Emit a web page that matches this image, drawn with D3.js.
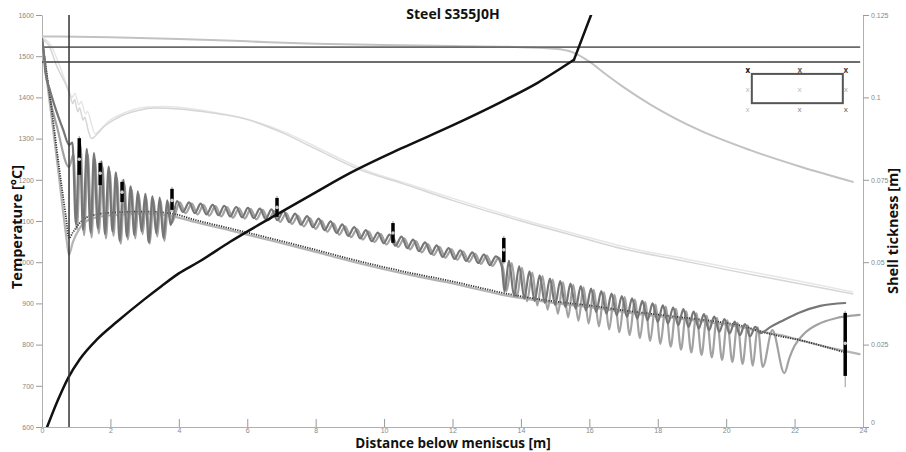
<!DOCTYPE html>
<html>
<head>
<meta charset="utf-8">
<script src="https://cdn.jsdelivr.net/npm/d3@7/dist/d3.min.js"></script>
<style>
  body { margin: 0; background: #fff; }
  svg { display: block; font-family: "Open Sans", "DejaVu Sans", sans-serif; }
</style>
</head>
<body>
<svg width="906" height="452"></svg>
<script>
// ---- data (distance [m], temperature [°C]) ----
const tempTicks = d3.range(600, 1601, 100);
const distTicks = d3.range(0, 25, 2);
const shellTicks = [0, 0.025, 0.05, 0.075, 0.1, 0.125];

const liquidusLine = [[0, 1522], [23.9, 1522]];
const solidusLine = [[0, 1486], [23.9, 1486]];
const mouldExit = 0.79;

const centreTemp = [[0,1548],[2,1546],[4,1542],[6,1536],[8,1530],[10,1527],[12,1525],[14,1522],[15,1518],[15.5,1510],[16,1487],[16.5,1455],[17,1425],[17.8,1382],[19.2,1321],[20.7,1272],[22.2,1231],[23.7,1195]];

const cornerA = [[0,1542],[0.2,1526],[0.44,1474],[0.73,1425],[0.82,1405],[0.9,1385],[0.95,1395],[1.05,1365],[1.1,1375],[1.2,1345],[1.25,1352],[1.35,1320],[1.45,1300],[1.6,1310],[1.8,1328],[2.2,1350],[2.8,1368],[3.3,1374],[4,1372],[5,1362],[5.85,1350],[7,1315],[8,1275],[9.3,1224],[10.5,1192],[12,1150],[14,1100],[15.7,1061],[17,1032],[18.65,1005],[20,982],[22,950],[23.7,923]];
const cornerB = [[0,1544],[0.25,1528],[0.5,1480],[0.78,1418],[0.88,1400],[0.96,1410],[1.08,1382],[1.15,1390],[1.27,1360],[1.33,1366],[1.45,1335],[1.55,1312],[1.7,1322],[1.95,1342],[2.4,1362],[3.0,1376],[3.6,1378],[4.4,1372],[5.3,1360],[6.2,1342],[7.2,1312],[8.3,1268],[9.5,1222],[10.7,1190],[12.2,1150],[14.2,1100],[15.9,1062],[17.2,1034],[18.8,1008],[20.2,985],[22.2,953],[23.7,928]];

const lowerDark = [[0,1540],[0.1,1480],[0.3,1360],[0.5,1230],[0.7,1110],[0.79,1058],[0.9,1072],[1.1,1095],[1.4,1112],[2,1120],[3,1123],[3.8,1118],[4.5,1102],[5.5,1082],[6.87,1054],[8,1030],[9,1008],[10,988],[11,970],[11.8,957],[12.7,940],[13.5,925],[14.3,913],[15.15,903],[16,895],[17,883],[18.5,868],[19.8,855],[20.5,845],[21,832],[21.6,820],[22.15,811],[22.8,797],[23.5,780]];
const lowerLight = [[0,1540],[0.1,1470],[0.3,1340],[0.5,1205],[0.7,1068],[0.79,1018],[0.9,1048],[1.1,1082],[1.4,1104],[2,1114],[3,1118],[3.8,1112],[4.5,1097],[5.5,1077],[6.87,1049],[8,1025],[9,1003],[10,983],[11,965],[11.8,952],[12.7,935],[13.5,920],[14.3,909],[15.15,899],[16,891],[17,879],[18.5,864],[19.8,851],[20.5,841],[21,832],[21.6,823],[22.15,811],[22.8,797],[23.9,777]];

// surface, dark trace
const surfA_mould = [[0,1542],[0.05,1510],[0.1,1460],[0.23,1418],[0.38,1377],[0.62,1321],[0.79,1285]];
const surfA_zone1 = [[0.89,1290],[0.99,1092],[1.10,1300],[1.20,1078],[1.31,1275],[1.42,1072],[1.52,1265],[1.63,1082],[1.74,1245],[1.84,1068],[1.95,1232],[2.06,1075],[2.16,1218],[2.27,1052],[2.38,1200],[2.48,1062],[2.59,1184],[2.70,1066],[2.80,1172],[2.91,1075],[3.02,1166],[3.12,1048],[3.23,1160],[3.34,1070],[3.44,1157],[3.55,1058],[3.66,1150],[3.76,1090]];
const surfA_zone2 = [[3.95,1148],[4.12,1122],[4.30,1145],[4.47,1119],[4.64,1142],[4.81,1116],[4.99,1139],[5.16,1114],[5.33,1137],[5.50,1111],[5.68,1134],[5.85,1109],[6.02,1132],[6.19,1107],[6.37,1130],[6.54,1105],[6.71,1128],[6.88,1102],[7.06,1124],[7.23,1097],[7.40,1118],[7.57,1091],[7.75,1112],[7.92,1085],[8.09,1106],[8.26,1078],[8.44,1099],[8.61,1071],[8.78,1092],[8.95,1064],[9.13,1085],[9.30,1058],[9.47,1078],[9.64,1051],[9.82,1072],[9.99,1046],[10.16,1067],[10.33,1040],[10.51,1062],[10.68,1034],[10.85,1055],[11.02,1027],[11.20,1048],[11.37,1020],[11.54,1041],[11.71,1013],[11.89,1034],[12.06,1008],[12.23,1029],[12.40,1003],[12.58,1024],[12.75,998],[12.92,1019],[13.09,993],[13.27,1014],[13.44,990]];
const surfA_zone3 = [[13.52,928],[13.65,1003],[13.80,918],[13.95,990],[14.10,912],[14.25,978],[14.40,906],[14.55,968],[14.70,901],[14.85,960],[15.00,896],[15.15,954],[15.30,891],[15.45,948],[15.60,887],[15.75,942],[15.90,883],[16.05,936],[16.20,879],[16.35,930],[16.50,875],[16.65,924],[16.80,871],[16.95,918],[17.10,867],[17.25,912],[17.40,863],[17.55,906],[17.70,859],[17.85,900],[18.00,855],[18.15,895],[18.30,851],[18.45,890],[18.60,847],[18.75,886],[18.90,843],[19.05,880],[19.20,839],[19.35,874],[19.50,835],[19.65,868],[19.80,831],[19.95,862],[20.10,827],[20.25,856],[20.40,823],[20.55,850],[20.70,820],[20.85,843],[21.00,828]];
const surfA_tail = [[21.3,843],[21.6,856],[22.15,878],[22.75,894],[23.48,901]];

// surface, light trace
const surfB_mould = [[0,1542],[0.09,1483],[0.23,1400],[0.44,1328],[0.79,1231]];
const surfB_zone1 = [[0.92,1262],[1.02,1080],[1.13,1280],[1.23,1065],[1.34,1262],[1.45,1060],[1.55,1250],[1.66,1070],[1.77,1232],[1.87,1058],[1.98,1220],[2.09,1064],[2.19,1205],[2.30,1045],[2.41,1190],[2.51,1055],[2.62,1176],[2.73,1058],[2.83,1165],[2.94,1068],[3.05,1158],[3.15,1045],[3.26,1152],[3.37,1062],[3.47,1150],[3.58,1052],[3.69,1145],[3.79,1095]];
const surfB_zone2 = [[4.03,1145],[4.20,1119],[4.38,1142],[4.55,1116],[4.72,1139],[4.89,1113],[5.07,1136],[5.24,1111],[5.41,1134],[5.58,1108],[5.76,1131],[5.93,1106],[6.10,1129],[6.27,1104],[6.45,1127],[6.62,1102],[6.79,1124],[6.96,1098],[7.14,1119],[7.31,1093],[7.48,1113],[7.65,1087],[7.83,1107],[8.00,1081],[8.17,1101],[8.34,1074],[8.52,1094],[8.69,1067],[8.86,1087],[9.03,1061],[9.21,1080],[9.38,1055],[9.55,1074],[9.72,1049],[9.90,1068],[10.07,1043],[10.24,1063],[10.41,1037],[10.59,1058],[10.76,1031],[10.93,1051],[11.10,1024],[11.28,1044],[11.45,1017],[11.62,1037],[11.79,1011],[11.97,1031],[12.14,1006],[12.31,1026],[12.48,1001],[12.66,1021],[12.83,996],[13.00,1016],[13.17,991],[13.35,1011],[13.48,985]];
const surfB_zone3 = [[13.58,930],[13.73,998],[13.88,915],[14.03,986],[14.18,905],[14.33,975],[14.48,895],[14.63,966],[14.78,885],[14.93,958],[15.08,875],[15.23,951],[15.38,866],[15.53,945],[15.68,858],[15.83,939],[15.98,851],[16.13,933],[16.28,844],[16.43,927],[16.58,837],[16.73,921],[16.88,830],[17.03,915],[17.18,823],[17.33,909],[17.48,816],[17.63,903],[17.78,809],[17.93,897],[18.08,802],[18.23,892],[18.38,795],[18.53,887],[18.68,788],[18.83,881],[18.98,781],[19.13,876],[19.28,775],[19.43,870],[19.58,769],[19.73,865],[19.88,763],[20.03,859],[20.18,758],[20.33,853],[20.48,753],[20.63,847],[20.78,749],[20.92,842],[21.07,746],[21.35,835],[21.70,731]];
const surfB_tail = [[21.85,768],[22.0,797],[22.3,828],[22.7,850],[23.2,864],[23.9,872]];

// shell thickness [m] (right axis): growing part and final closure
const shellGrowth = [[0.15,0],[0.45,0.0078],[0.77,0.0150],[1.1,0.0205],[1.6,0.0265],[2.2,0.0320],[3.0,0.0388],[3.5,0.0428],[4.0,0.0466],[4.6,0.0502],[5.5,0.0562],[6.87,0.0645],[8.0,0.0712],[9.0,0.0770],[10.5,0.0845],[12.0,0.0915],[13.4,0.0985],[14.5,0.1045],[15.55,0.1114]];
const shellClosure = [[15.55,0.1114],[16.05,0.125]];

// pyrometer measurements
const measDist = [1.09, 1.70, 2.34, 3.80, 6.87, 10.26, 13.50, 23.48];
const measHigh = [1301, 1241, 1195, 1178, 1156, 1095, 1059, 877];
const measLow  = [1212, 1187, 1146, 1127, 1110, 1047, 1000, 724];
const measMid  = [1250, 1216, 1170, 1150, 1133, 1071, 1030, 803];
const measRangeLow = [1205, 1182, 1140, 1122, 1106, 1043, 995, 697];

// section sketch (drawn in data units)
const sectionBox = {x0: 20.75, x1: 23.41, t0: 1457, t1: 1386};
const probeX = [20.63, 22.15, 23.5];
const probeT = [1467, 1419, 1372];
const probeColors = [["#111", "#666", "#444"], ["#bbb", "#bbb", "#aaa"], ["#bbb", "#888", "#555"]];

// ---- chart ----
const svg = d3.select("svg");
const margin = {top: 15, right: 43, bottom: 25, left: 42};
const width = 906 - margin.left - margin.right;
const height = 452 - margin.top - margin.bottom;

const x = d3.scaleLinear().domain([0, 24]).range([0, width]);
const y = d3.scaleLinear().domain([600, 1600]).range([height, 0]);
const y2 = d3.scaleLinear().domain([0, 0.125]).range([height, 0]);

const g = svg.append("g").attr("transform", "translate(" + margin.left + "," + margin.top + ")");

svg.append("defs").append("clipPath").attr("id", "plot")
  .append("rect").attr("width", width).attr("height", height);

// axes
function styleAxis(sel) {
  sel.select(".domain").attr("stroke", "#b0b0b0");
  sel.selectAll(".tick line").attr("stroke", "#999");
  sel.selectAll(".tick text").attr("fill", "#888").attr("font-size", 7);
}

g.append("g")
  .call(d3.axisLeft(y).tickValues(tempTicks).tickFormat(d3.format("d")).tickSize(6).tickSizeOuter(0).tickPadding(2))
  .call(styleAxis);

g.append("g")
  .attr("transform", "translate(0," + height + ")")
  .call(d3.axisBottom(x).tickValues(distTicks).tickFormat(d3.format("d")).tickSize(-8).tickSizeOuter(0).tickPadding(1))
  .call(styleAxis);

g.append("g")
  .attr("transform", "translate(" + width + ",0)")
  .call(d3.axisRight(y2).tickValues(shellTicks).tickFormat(d => String(d)).tickSize(6).tickSizeOuter(0).tickPadding(2))
  .call(styleAxis)
  .selectAll(".tick text").filter(d => d === 0).attr("dy", "-0.3em");

// titles
svg.append("text").attr("x", 453).attr("y", 19).attr("text-anchor", "middle")
  .attr("font-weight", "bold").attr("font-size", 14).attr("fill", "#111").text("Steel S355J0H");

svg.append("text").attr("transform", "translate(22," + (margin.top + height / 2 + 6) + ") rotate(-90)")
  .attr("text-anchor", "middle").attr("font-weight", "bold").attr("font-size", 14.5).attr("fill", "#111")
  .text("Temperature [°C]");

svg.append("text").attr("transform", "translate(898," + (margin.top + height / 2 + 10) + ") rotate(-90)")
  .attr("text-anchor", "middle").attr("font-weight", "bold").attr("font-size", 14.5).attr("fill", "#111")
  .text("Shell tickness [m]");

svg.append("text").attr("x", 453).attr("y", 448).attr("text-anchor", "middle")
  .attr("font-weight", "bold").attr("font-size", 13.5).attr("fill", "#111")
  .text("Distance below meniscus [m]");

// lines
const plot = g.append("g").attr("clip-path", "url(#plot)");
const line = d3.line().x(d => x(d[0])).y(d => y(d[1])).curve(d3.curveMonotoneX);
const straight = d3.line().x(d => x(d[0])).y(d => y(d[1]));
const shellLine = d3.line().x(d => x(d[0])).y(d => y2(d[1])).curve(d3.curveMonotoneX);
const shellStraight = d3.line().x(d => x(d[0])).y(d => y2(d[1]));

function draw(data, gen, color, w, dash) {
  plot.append("path").datum(data).attr("d", gen)
    .attr("fill", "none").attr("stroke", color).attr("stroke-width", w)
    .attr("stroke-linejoin", "round").attr("stroke-linecap", "round")
    .attr("stroke-dasharray", dash || null);
}

draw(cornerB, line, "#e6e6e6", 1.5);
draw(cornerA, line, "#d6d6d6", 1.5);
draw(centreTemp, line, "#c2c2c2", 2);
draw(liquidusLine, straight, "#6a6a6a", 1.6);
draw(solidusLine, straight, "#3c3c3c", 1.6);
draw(lowerLight, line, "#b4b4b4", 2.2);

const surfB = [].concat(surfB_mould, surfB_zone1, surfB_zone2, surfB_zone3, surfB_tail);
const surfA = [].concat(surfA_mould, surfA_zone1, surfA_zone2, surfA_zone3, surfA_tail);
draw(surfB, line, "#a2a2a2", 2.2);
plot.append("path").datum(lowerDark).attr("d", line)
  .attr("fill", "none").attr("stroke", "#333").attr("stroke-width", 1.8).attr("stroke-dasharray", "1.2,1.2");
draw(surfA, line, "#767676", 2.2);

draw(shellGrowth, shellLine, "#111", 2.5);
draw(shellClosure, shellStraight, "#111", 2.5);

plot.append("line")
  .attr("x1", x(mouldExit)).attr("x2", x(mouldExit))
  .attr("y1", 0).attr("y2", height)
  .attr("stroke", "#333").attr("stroke-width", 1.5);

// measurement bars
const meas = measDist.map((d, i) => ({x: d, hi: measHigh[i], lo: measLow[i], mid: measMid[i], rlo: measRangeLow[i]}));
const mg = plot.selectAll(".meas").data(meas).enter().append("g").attr("class", "meas");
mg.append("line").attr("x1", d => x(d.x)).attr("x2", d => x(d.x))
  .attr("y1", d => y(d.hi) - 2).attr("y2", d => y(d.rlo))
  .attr("stroke", "#999").attr("stroke-width", 1);
mg.append("line").attr("x1", d => x(d.x)).attr("x2", d => x(d.x))
  .attr("y1", d => y(d.hi)).attr("y2", d => y(d.lo))
  .attr("stroke", "#000").attr("stroke-width", 3.5);
mg.append("circle").attr("cx", d => x(d.x)).attr("cy", d => y(d.mid)).attr("r", 1.8)
  .attr("fill", "#ccc");

// section sketch with probe positions
g.append("rect")
  .attr("x", x(sectionBox.x0)).attr("y", y(sectionBox.t0))
  .attr("width", x(sectionBox.x1) - x(sectionBox.x0))
  .attr("height", y(sectionBox.t1) - y(sectionBox.t0))
  .attr("fill", "none").attr("stroke", "#555").attr("stroke-width", 2);

probeT.forEach((t, r) => {
  probeX.forEach((px, c) => {
    g.append("text").attr("x", x(px)).attr("y", y(t)).attr("dy", "0.35em")
      .attr("text-anchor", "middle").attr("font-size", 8)
      .attr("font-weight", r === 0 ? "bold" : "normal")
      .attr("fill", probeColors[r][c]).text("x");
  });
});
</script>
</body>
</html>
